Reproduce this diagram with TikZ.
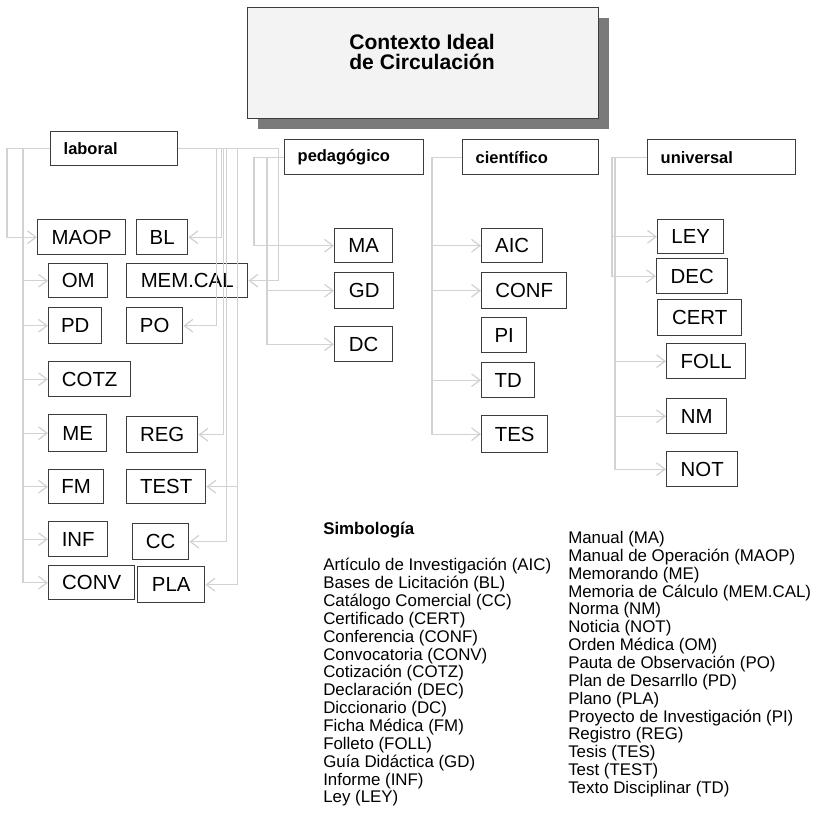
\documentclass[tikz,border=0pt]{standalone}
\usepackage{fontspec}
\setmainfont{Liberation Sans}
\usetikzlibrary{arrows.meta,shadows}
\definecolor{boxline}{HTML}{3C3C3C}
\definecolor{linkgray}{HTML}{D2D2D2}
\definecolor{titlefill}{HTML}{F3F3F3}
\definecolor{shadowgray}{HTML}{7A7A7A}
\newcommand\boxfont{\fontsize{14.5}{16}\selectfont}
\newcommand\catfont{\fontsize{11.7}{13}\selectfont\bfseries}
\newcommand\titlefont{\fontsize{15}{14}\selectfont\bfseries}
\newcommand\legfont{\fontsize{12}{12.7}\selectfont}
\tikzset{
  doc/.style 2 args={draw=boxline, line width=1pt, font=\boxfont, inner sep=0pt,
    anchor=north west, minimum width=#1*0.025cm, minimum height=#2*0.025cm},
  cat/.style={draw=boxline, line width=1pt, font=\catfont, anchor=north west,
    align=left, inner xsep=0.325cm, inner ysep=0pt},
  link/.style={draw=linkgray, line width=0.9pt, -{Straight Barb[length=6pt,width=9pt]}},
  legend/.style={font=\legfont, align=left, inner sep=0pt}
}
\begin{document}
\begin{tikzpicture}[x=0.025cm, y=-0.025cm]
  \useasboundingbox (0,0) rectangle (817,812);
  % titulo
  \node[draw=boxline, line width=1pt, fill=titlefill, anchor=north west,
    minimum width=351*0.025cm, minimum height=111*0.025cm,
    drop shadow={shadow xshift=7pt, shadow yshift=-7pt, fill=shadowgray, opacity=1}] (ctx) at (247,7) {};
  \node[font=\titlefont, align=center] (ctxtext) at (422,52) {Contexto Ideal\\de Circulación};
  % contextos
  \node[cat, text width=2.525cm, minimum height=0.85cm] (laboral) at (50,131) {laboral};
  \node[cat, text width=2.825cm, minimum height=0.875cm] (pedag) at (284,139) {pedagógico};
  \node[cat, text width=2.75cm, minimum height=0.875cm] (cient) at (462,139) {científico};
  \node[cat, text width=3.05cm, minimum height=0.875cm] (univ) at (647,139) {universal};
  % laboral
  \node[doc={88}{35}] (MAOP) at (37,219) {MAOP};
  \node[doc={51}{35}] (BL) at (136,219) {BL};
  \node[doc={59}{34}] (OM) at (48,263) {OM};
  \node[doc={121}{34}] (MEMCAL) at (126,263) {MEM.CAL};
  \node[doc={53}{36}] (PD) at (48,307) {PD};
  \node[doc={56}{36}] (PO) at (126,307) {PO};
  \node[doc={82}{35}] (COTZ) at (48,361) {COTZ};
  \node[doc={58}{37}] (ME) at (48,414) {ME};
  \node[doc={71}{36}] (REG) at (126,416) {REG};
  \node[doc={55}{34}] (FM) at (48,469) {FM};
  \node[doc={79}{34}] (TEST) at (126,469) {TEST};
  \node[doc={59}{35}] (INF) at (48,521) {INF};
  \node[doc={56}{36}] (CC) at (132,523) {CC};
  \node[doc={86}{34}] (CONV) at (48,565) {CONV};
  \node[doc={67}{36}] (PLA) at (137,566) {PLA};
  % pedagogico
  \node[doc={58}{34}] (MA) at (334,228) {MA};
  \node[doc={59}{36}] (GD) at (334,272) {GD};
  \node[doc={58}{35}] (DC) at (334,326) {DC};
  % cientifico
  \node[doc={61}{34}] (AIC) at (481,228) {AIC};
  \node[doc={85}{36}] (CONF) at (481,272) {CONF};
  \node[doc={45}{35}] (PI) at (481,317) {PI};
  \node[doc={53}{35}] (TD) at (481,362) {TD};
  \node[doc={66}{37}] (TES) at (481,415) {TES};
  % universal
  \node[doc={66}{34}] (LEY) at (657,219) {LEY};
  \node[doc={71}{35}] (DEC) at (656,258) {DEC};
  \node[doc={84}{36}] (CERT) at (657,299) {CERT};
  \node[doc={79}{35}] (FOLL) at (666,343) {FOLL};
  \node[doc={60}{35}] (NM) at (666,398) {NM};
  \node[doc={71}{35}] (NOT) at (666,451) {NOT};
  % conectores laboral
  \draw[link] (laboral.west) -- ++(-43,0) |- (MAOP.west);
  \foreach \d in {OM,PD,COTZ,ME,FM,INF,CONV}
    \draw[link] (laboral.west) -- ++(-27,0) |- (\d.west);
  \draw[link] (laboral.east) -- ++(38,0) |- (PO.east);
  \draw[link] (laboral.east) -- ++(43,0) |- (BL.east);
  \draw[link] (laboral.east) -- ++(45,0) |- (REG.east);
  \draw[link] (laboral.east) -- ++(48,0) |- (CC.east);
  \draw[link] (laboral.east) -- ++(59,0) |- (TEST.east);
  \draw[link] (laboral.east) -- ++(59,0) |- (PLA.east);
  \draw[link] (laboral.east) -- ++(100,0) |- (MEMCAL.east);
  % conectores pedagogico
  \draw[link] (pedag.west) -- ++(-30,0) |- (MA.west);
  \draw[link] (pedag.west) -- ++(-17,0) |- (GD.west);
  \draw[link] (pedag.west) -- ++(-17,0) |- (DC.west);
  % conectores cientifico
  \foreach \d in {AIC,CONF,TD,TES}
    \draw[link] (cient.west) -- ++(-30,0) |- (\d.west);
  % conectores universal
  \draw[link] (univ.west) -- ++(-35,0) |- (LEY.west);
  \draw[link] (univ.west) -- ++(-35,0) |- (DEC.west);
  \foreach \d in {FOLL,NM,NOT}
    \draw[link] (univ.west) -- ++(-32,0) |- (\d.west);
  % simbologia
  \node[legend, anchor=west] (simb) at (323,530) {\bfseries Simbología};
  \node[legend, anchor=north west] (legizq) at (323,558) {Artículo de Investigación (AIC)\\
    Bases de Licitación (BL)\\Catálogo Comercial (CC)\\Certificado (CERT)\\
    Conferencia (CONF)\\Convocatoria (CONV)\\Cotización (COTZ)\\Declaración (DEC)\\
    Diccionario (DC)\\Ficha Médica (FM)\\Folleto (FOLL)\\Guía Didáctica (GD)\\
    Informe (INF)\\Ley (LEY)};
  \node[legend, anchor=north west] (legder) at (568,531) {Manual (MA)\\
    Manual de Operación (MAOP)\\Memorando (ME)\\Memoria de Cálculo (MEM.CAL)\\
    Norma (NM)\\Noticia (NOT)\\Orden Médica (OM)\\Pauta de Observación (PO)\\
    Plan de Desarrllo (PD)\\Plano (PLA)\\Proyecto de Investigación (PI)\\
    Registro (REG)\\Tesis (TES)\\Test (TEST)\\Texto Disciplinar (TD)};
\end{tikzpicture}
\end{document}
